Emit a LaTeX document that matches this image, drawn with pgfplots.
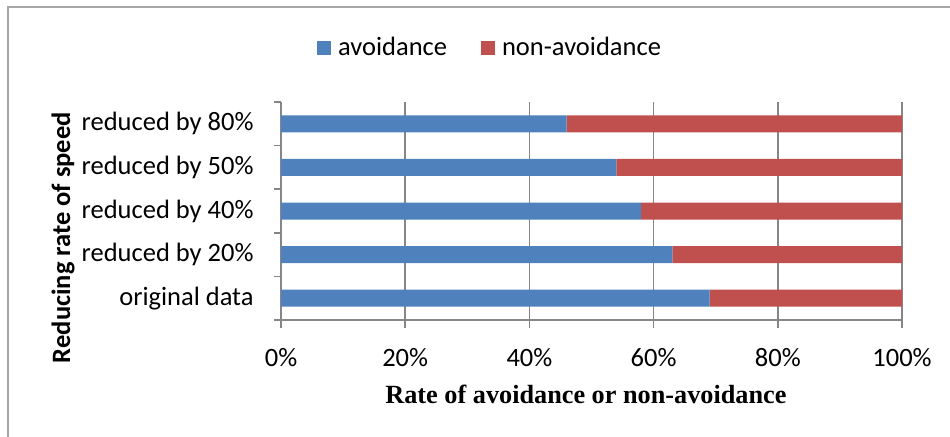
\documentclass[border=0pt]{standalone}
\usepackage{fontspec}
\setmainfont{Carlito}
\newfontfamily\timesfont{Liberation Serif}
\usepackage{pgfplots}
\pgfplotsset{compat=1.18}
\definecolor{avblue}{RGB}{79,129,189}
\definecolor{nonred}{RGB}{192,80,77}
\definecolor{axgray}{RGB}{134,134,134}
\definecolor{framegray}{RGB}{166,166,166}

\begin{document}
\fontsize{10.6}{12.7}\selectfont
\begin{tikzpicture}
% page box and chart frame (1 unit = 0.4pt)
\begin{scope}[x=0.4pt,y=-0.4pt]
  \useasboundingbox (0,0) rectangle (950,436);
  \draw[framegray, line width=0.8pt] (8,440) -- (8,7) -- (954,7);
\end{scope}
\begin{axis}[
  at={(112.4pt,-128pt)}, anchor=south west,
  scale only axis, width=248.4pt, height=87.2pt,
  xbar stacked, bar width=6.8pt,
  xmin=0, xmax=100, ymin=-0.5, ymax=4.5,
  axis lines*=left,
  axis line style={axgray, line width=0.6pt},
  xtick={0,20,...,100},
  xticklabels={0\%,20\%,40\%,60\%,80\%,100\%},
  xmajorgrids, grid style={axgray, line width=0.6pt},
  ytick={0,...,4},
  yticklabels={original data, reduced by 20\%, reduced by 40\%, reduced by 50\%, reduced by 80\%},
  minor ytick={-0.5,0.5,...,4.5},
  tick align=outside, major tick length=3.2pt, minor tick length=2.8pt,
  every major y tick/.style={draw=none},
  every minor y tick/.style={axgray, line width=0.6pt},
  xtick style={axgray, line width=0.6pt},
  xticklabel style={inner sep=0pt, anchor=north, yshift=-8pt, font=\fontsize{10.6}{12.7}\selectfont},
  yticklabel style={inner sep=0pt, anchor=east, xshift=-7.6pt, font=\fontsize{10.6}{12.7}\selectfont},
  xlabel={Rate of avoidance or non-avoidance},
  ylabel={Reducing rate of speed},
  every axis x label/.style={at={(axis description cs:0.491,-0.381)}, anchor=base,
    font=\timesfont\bfseries\fontsize{10.5}{12.6}\selectfont},
  every axis y label/.style={at={(axis description cs:-0.351,0.378)}, rotate=90, anchor=center,
    font=\bfseries\fontsize{10.6}{12.7}\selectfont},
  legend columns=2,
  legend image code/.code={\fill[#1] (0pt,-2.8pt) rectangle (5.6pt,2.8pt);},
  legend style={at={(axis description cs:0.335,1.248)}, anchor=center, draw=none,
    inner sep=0pt, nodes={inner sep=0pt},
    font=\fontsize{10.6}{12.7}\selectfont,
    /tikz/every odd column/.append style={column sep=2.8pt},
    /tikz/every even column/.append style={column sep=13.6pt}},
]
\addplot[fill=avblue, draw=none] coordinates {(69,0) (63,1) (58,2) (54,3) (46,4)};
\addplot[fill=nonred, draw=none] coordinates {(31,0) (37,1) (42,2) (46,3) (54,4)};
\legend{avoidance, non-avoidance}
\end{axis}
\end{tikzpicture}
\end{document}
